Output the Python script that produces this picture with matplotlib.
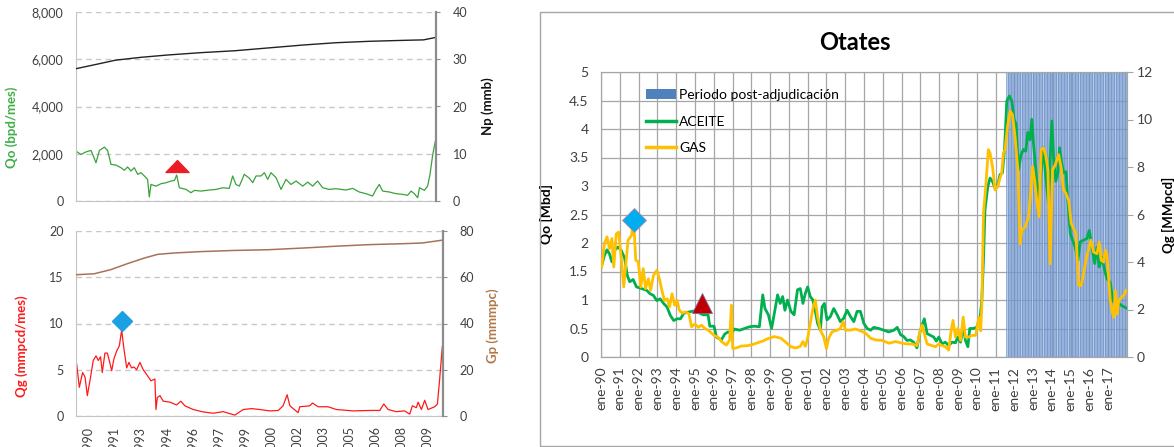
import numpy as np
import matplotlib.pyplot as plt
from matplotlib.patches import Rectangle, Patch
from matplotlib.lines import Line2D
from matplotlib.path import Path
from matplotlib.ticker import FuncFormatter

plt.rcParams['font.family'] = ['Lato', 'DejaVu Sans']

# ---------------- left panels (1990-2010) ----------------
qo_dates = [1989.30, 1989.59, 1989.89, 1990.18, 1990.47, 1990.67, 1990.96, 1991.15, 1991.35, 1991.64,
            1991.93, 1992.13, 1992.32, 1992.52, 1992.71, 1992.91, 1993.10, 1993.30, 1993.49, 1993.59,
            1993.69, 1993.98, 1994.27, 1994.57, 1994.86, 1995.06, 1995.19, 1995.35, 1995.74, 1996.03,
            1996.23, 1996.62, 1997.10, 1997.49, 1997.88, 1998.27, 1998.47, 1998.66, 1998.86, 1999.15,
            1999.45, 1999.64, 1999.84, 2000.13, 2000.32, 2000.52, 2000.71, 2001.01, 2001.30, 2001.59,
            2001.88, 2002.18, 2002.57, 2002.86, 2003.15, 2003.44, 2003.74, 2004.13, 2004.52, 2005.10,
            2005.49, 2005.88, 2006.27, 2006.66, 2006.86, 2007.05, 2007.25, 2007.64, 2008.03, 2008.42,
            2008.71, 2008.91, 2009.10, 2009.30, 2009.40, 2009.69, 2009.88, 2010.02, 2010.18, 2010.37]
qo_vals = [2110, 1970, 2080, 2140, 1620, 2140, 2280, 2140, 1550, 1520,
           1410, 1300, 1440, 1270, 1410, 1130, 1200, 1060, 915, 170,
           700, 630, 730, 775, 845, 870, 1100, 560, 490, 350,
           450, 420, 465, 490, 560, 535, 1060, 700, 630, 1130,
           960, 775, 1060, 1060, 1200, 915, 1200, 985, 490, 915,
           700, 845, 630, 800, 630, 845, 560, 490, 520, 465,
           535, 380, 310, 210, 490, 700, 420, 380, 310, 280,
           240, 420, 310, 140, 560, 450, 630, 1130, 1970, 2675]

np_dates = [1989.30, 1990.72, 1991.61, 1993.08, 1994.66, 1996.63, 1998.60, 2000.57, 2002.55, 2004.52,
            2006.49, 2008.46, 2009.64, 2010.33]
np_vals = [28.0, 29.1, 29.8, 30.4, 30.9, 31.4, 31.8, 32.4, 33.0, 33.5, 33.8, 34.0, 34.1, 34.6]

qg_dates = [1989.34, 1989.49, 1989.68, 1989.82, 1989.95, 1990.10, 1990.29, 1990.45, 1990.58, 1990.71,
            1990.81, 1990.96, 1991.10, 1991.21, 1991.35, 1991.48, 1991.63, 1991.79, 1991.92, 1992.05,
            1992.21, 1992.34, 1992.49, 1992.63, 1992.78, 1992.97, 1993.16, 1993.39, 1993.60, 1993.83,
            1993.89, 1993.97, 1994.12, 1994.31, 1994.69, 1995.07, 1995.32, 1995.55, 1996.03, 1996.60,
            1997.18, 1997.75, 1998.13, 1998.42, 1998.90, 1999.38, 1999.85, 2000.43, 2000.91, 2001.19,
            2001.42, 2001.58, 2002.05, 2002.15, 2002.72, 2002.88, 2003.20, 2003.77, 2004.25, 2005.21,
            2006.16, 2006.74, 2006.97, 2007.22, 2007.69, 2008.17, 2008.46, 2008.61, 2008.84, 2008.94,
            2009.13, 2009.32, 2009.51, 2009.89, 2010.05, 2010.17, 2010.33]
qg_vals = [5.6, 3.1, 4.7, 4.2, 2.2, 3.8, 6.0, 6.5, 6.0, 6.4,
           4.7, 6.8, 6.8, 6.0, 4.9, 6.2, 7.0, 7.6, 9.3, 7.3,
           5.2, 5.8, 5.2, 5.3, 5.0, 5.8, 5.0, 4.4, 3.8, 4.0,
           0.7, 2.0, 2.2, 1.6, 1.5, 1.2, 1.6, 1.1, 0.7, 0.44,
           0.3, 0.47, 0.25, 0.1, 0.7, 0.8, 0.7, 0.55, 0.6, 1.1,
           2.3, 1.1, 0.36, 1.0, 1.1, 1.4, 1.0, 1.0, 0.7, 0.55,
           0.6, 0.6, 1.3, 0.7, 0.47, 0.55, 0.2, 1.1, 0.9, 1.5,
           0.7, 1.7, 0.7, 1.0, 1.3, 3.8, 7.5]

gp_dates = [1989.34, 1990.34, 1991.30, 1992.26, 1993.22, 1993.99, 1994.95, 1996.49, 1998.41, 2000.33,
            2002.25, 2004.18, 2006.10, 2008.02, 2009.17, 2010.29]
gp_vals = [61.1, 61.5, 63.3, 65.9, 68.3, 69.9, 70.5, 71.1, 71.6, 71.9, 72.6, 73.4, 74.1, 74.5, 74.8, 76.0]

left_year_ticks = [1990, 1991.5, 1993, 1994.5, 1996, 1997.5, 1999, 2000.5, 2002, 2003.5,
                   2005, 2006.5, 2008, 2009.5]
left_triangle = (1995.19, 1480)
left_diamond = (1991.96, 10.3)

# ---------------- right panel: Otates ----------------
ac_dates = [1990.04, 1990.18, 1990.32, 1990.45, 1990.58, 1990.72, 1990.90, 1991.08, 1991.26, 1991.40,
            1991.53, 1991.71, 1991.89, 1992.16, 1992.43, 1992.61, 1992.79, 1992.97, 1993.15, 1993.33,
            1993.51, 1993.69, 1993.87, 1994.05, 1994.23, 1994.41, 1994.68, 1995.00, 1995.44, 1995.70,
            1995.79, 1996.02, 1996.14, 1996.41, 1996.58, 1996.76, 1996.94, 1997.11, 1997.38, 1997.64,
            1997.90, 1998.17, 1998.43, 1998.61, 1998.73, 1998.91, 1999.08, 1999.23, 1999.40, 1999.54,
            1999.67, 1999.79, 1999.93, 2000.11, 2000.28, 2000.46, 2000.61, 2000.75, 2000.88, 2001.00,
            2001.14, 2001.28, 2001.41, 2001.53, 2001.68, 2001.77, 2001.89, 2002.03, 2002.21, 2002.39,
            2002.57, 2002.74, 2002.92, 2003.10, 2003.28, 2003.46, 2003.63, 2003.81, 2003.99, 2004.17,
            2004.35, 2004.52, 2004.79, 2005.06, 2005.32, 2005.59, 2005.77, 2005.95, 2006.11, 2006.29,
            2006.47, 2006.64, 2006.82, 2006.96, 2007.09, 2007.21, 2007.36, 2007.53, 2007.71, 2007.85,
            2007.98, 2008.16, 2008.33, 2008.51, 2008.69, 2008.87, 2008.99, 2009.14, 2009.28, 2009.40,
            2009.53, 2009.63, 2009.81, 2010.00, 2010.18, 2010.27, 2010.36, 2010.44, 2010.59, 2010.71,
            2010.84, 2010.98, 2011.10, 2011.24, 2011.37, 2011.48, 2011.60, 2011.74, 2011.87, 2011.99,
            2012.10, 2012.22, 2012.36, 2012.49, 2012.61, 2012.72, 2012.84, 2012.93, 2013.02, 2013.15,
            2013.29, 2013.43, 2013.56, 2013.68, 2013.82, 2013.91, 2014.00, 2014.09, 2014.21, 2014.32,
            2014.41, 2014.50, 2014.62, 2014.75, 2014.85, 2014.98, 2015.10, 2015.24, 2015.39, 2015.51,
            2015.69, 2015.87, 2015.99, 2016.13, 2016.28, 2016.40, 2016.52, 2016.67, 2016.81, 2016.93,
            2017.11, 2017.24, 2017.38, 2017.56, 2017.73, 2017.95]
ac_vals = [1.61, 1.78, 1.88, 1.81, 1.67, 1.87, 1.93, 1.87, 1.73, 1.43,
           1.32, 1.36, 1.23, 1.20, 1.17, 1.11, 1.08, 0.99, 1.02, 0.94,
           0.88, 0.73, 0.64, 0.67, 0.67, 0.77, 0.79, 0.81, 0.74, 0.74,
           0.54, 0.54, 0.35, 0.30, 0.40, 0.44, 0.42, 0.49, 0.47, 0.50,
           0.53, 0.54, 0.53, 1.09, 0.85, 0.74, 0.50, 0.77, 1.09, 0.94,
           1.06, 0.82, 1.00, 0.80, 0.74, 1.18, 1.20, 0.94, 1.12, 1.23,
           1.06, 1.00, 0.80, 0.59, 0.47, 0.88, 0.94, 0.65, 0.71, 0.85,
           0.74, 0.62, 0.68, 0.82, 0.71, 0.62, 0.80, 0.80, 0.59, 0.50,
           0.47, 0.52, 0.50, 0.47, 0.44, 0.47, 0.52, 0.39, 0.36, 0.29,
           0.30, 0.26, 0.16, 0.41, 0.56, 0.67, 0.41, 0.38, 0.35, 0.28,
           0.35, 0.23, 0.26, 0.20, 0.26, 0.25, 0.35, 0.26, 0.53, 0.29,
           0.18, 0.50, 0.50, 0.52, 0.69, 0.99, 1.70, 2.58, 2.99, 3.14,
           3.08, 2.96, 2.99, 3.20, 3.23, 3.64, 4.49, 4.58, 4.49, 4.17,
           4.08, 3.28, 3.55, 3.64, 3.61, 3.94, 3.81, 4.17, 3.75, 3.28,
           2.64, 3.28, 3.67, 3.14, 2.70, 3.46, 4.14, 3.52, 3.08, 3.23,
           3.67, 3.46, 3.23, 3.25, 2.75, 2.17, 2.05, 1.93, 1.70, 2.02,
           2.05, 2.08, 2.22, 1.93, 1.64, 1.93, 1.58, 1.75, 1.52, 1.37,
           1.31, 0.99, 0.93, 0.94, 0.90, 0.86]

gas_dates = [1990.04, 1990.18, 1990.32, 1990.45, 1990.58, 1990.68, 1990.81, 1990.94, 1991.08, 1991.21,
             1991.29, 1991.44, 1991.62, 1991.74, 1991.85, 1991.98, 1992.12, 1992.25, 1992.37, 1992.52,
             1992.64, 1992.79, 1992.97, 1993.11, 1993.24, 1993.38, 1993.53, 1993.65, 1993.78, 1993.92,
             1994.05, 1994.17, 1994.32, 1994.50, 1994.68, 1994.82, 1995.00, 1995.18, 1995.35, 1995.53,
             1995.70, 1995.88, 1996.06, 1996.23, 1996.41, 1996.67, 1996.85, 1996.94, 1997.01, 1997.20,
             1997.46, 1997.82, 1998.08, 1998.35, 1998.61, 1998.87, 1999.23, 1999.58, 1999.84, 2000.11,
             2000.37, 2000.61, 2000.75, 2000.88, 2001.00, 2001.14, 2001.28, 2001.41, 2001.53, 2001.68,
             2001.85, 2002.00, 2002.12, 2002.30, 2002.57, 2002.74, 2002.89, 2003.01, 2003.28, 2003.54,
             2003.81, 2004.08, 2004.35, 2004.61, 2004.97, 2005.32, 2005.68, 2006.04, 2006.29, 2006.56,
             2006.82, 2007.00, 2007.09, 2007.21, 2007.36, 2007.62, 2007.80, 2007.98, 2008.16, 2008.33,
             2008.51, 2008.64, 2008.74, 2008.87, 2008.99, 2009.14, 2009.28, 2009.40, 2009.58, 2009.76,
             2009.94, 2010.12, 2010.21, 2010.27, 2010.36, 2010.48, 2010.62, 2010.71, 2010.84, 2010.98,
             2011.12, 2011.24, 2011.33, 2011.42, 2011.51, 2011.64, 2011.78, 2011.90, 2012.04, 2012.19,
             2012.31, 2012.40, 2012.58, 2012.76, 2012.84, 2012.97, 2013.08, 2013.20, 2013.32, 2013.43,
             2013.56, 2013.68, 2013.79, 2013.91, 2014.04, 2014.18, 2014.36, 2014.50, 2014.62, 2014.75,
             2014.89, 2015.03, 2015.16, 2015.28, 2015.42, 2015.56, 2015.69, 2015.81, 2015.96, 2016.08,
             2016.22, 2016.40, 2016.52, 2016.63, 2016.76, 2016.84, 2016.93, 2017.02, 2017.11, 2017.20,
             2017.29, 2017.38, 2017.47, 2017.56, 2017.70, 2017.82, 2017.95]
gas_vals = [3.79, 4.78, 5.06, 4.56, 4.99, 3.79, 5.18, 5.26, 4.15, 2.95,
            3.65, 4.92, 5.11, 5.76, 4.08, 4.01, 2.95, 3.72, 2.88, 3.29,
            2.81, 3.43, 3.65, 3.29, 2.81, 2.38, 2.45, 2.11, 2.66, 2.18,
            2.38, 1.97, 1.85, 1.90, 1.82, 1.27, 1.39, 1.25, 1.34, 1.20,
            1.13, 1.01, 0.89, 0.84, 0.65, 0.50, 0.72, 2.18, 0.36, 0.38,
            0.46, 0.48, 0.53, 0.60, 0.67, 0.77, 0.86, 0.79, 0.62, 0.43,
            0.38, 0.45, 0.65, 0.45, 0.79, 1.42, 2.04, 2.40, 1.70, 1.13,
            0.86, 0.36, 0.79, 1.06, 1.13, 1.20, 1.49, 1.13, 1.13, 1.18,
            1.10, 1.01, 0.79, 0.72, 0.70, 0.58, 0.65, 0.58, 0.55, 0.55,
            0.48, 1.13, 1.34, 0.98, 0.55, 0.48, 0.43, 0.55, 0.48, 0.43,
            0.29, 1.13, 1.54, 0.84, 1.20, 0.70, 1.68, 0.84, 0.84, 0.91,
            0.91, 1.67, 1.10, 2.09, 6.05, 7.18, 8.73, 8.59, 8.02, 7.03,
            7.18, 7.53, 7.74, 8.59, 8.73, 9.72, 10.35, 10.21, 9.29, 7.88,
            4.77, 5.34, 5.48, 5.90, 6.61, 8.02, 7.46, 6.61, 5.90, 8.73,
            8.80, 8.45, 7.88, 3.93, 7.88, 8.09, 8.52, 7.95, 7.03, 6.89,
            6.61, 5.62, 5.41, 5.20, 3.01, 3.01, 3.50, 4.07, 4.56, 4.92,
            4.42, 4.35, 4.84, 4.07, 4.00, 4.49, 4.35, 3.36, 2.37, 1.95,
            1.67, 2.80, 1.81, 2.37, 2.51, 2.58, 2.80]

post_start, post_end = 2011.58, 2018.0
right_diamond = (1991.76, 2.40)
right_triangle = (1995.39, 0.94)
years = list(range(1990, 2018))

W, H = 1174, 447
fig = plt.figure(figsize=(W / 100, H / 100), dpi=100)


def px_axes(l, t, r, b):
    return fig.add_axes([l / W, 1 - b / H, (r - l) / W, (b - t) / H])


def style_left(ax, axb):
    for s in ['top', 'right']:
        ax.spines[s].set_visible(False)
    ax.spines['left'].set_color('#c4c4c4')
    ax.spines['bottom'].set_color('#c4c4c4')
    for s in ['top', 'left', 'bottom']:
        axb.spines[s].set_visible(False)
    axb.spines['right'].set_color('#8c8c8c')
    axb.spines['right'].set_linewidth(1.6)
    ax.grid(axis='y', color='#c8c8c8', ls=(0, (4, 3)), lw=1)
    ax.tick_params(axis='y', length=0, labelsize=9, colors='#404040', pad=9)
    axb.tick_params(axis='y', length=3, color='#8c8c8c', labelsize=9, labelcolor='#404040', pad=9)


flat_tri = Path([(-1, -0.52), (1, -0.52), (0, 0.52), (-1, -0.52)],
                [Path.MOVETO, Path.LINETO, Path.LINETO, Path.CLOSEPOLY])

# top left: oil
ax1 = px_axes(76, 12, 436, 201)
ax1b = ax1.twinx()
ax1.plot(qo_dates, qo_vals, color='#3aa23a', lw=0.9)
ax1b.plot(np_dates, np_vals, color='#222222', lw=1.0)
ax1.plot(*left_triangle, marker=flat_tri, ms=16.5, color='#ec1c24', ls='none', zorder=5)
ax1.set_xlim(1989.3, 2010.37)
ax1.set_ylim(0, 8000)
ax1.set_yticks(range(0, 8001, 2000))
ax1.yaxis.set_major_formatter(FuncFormatter(lambda v, p: f'{v:,.0f}'))
ax1.set_xticks([])
ax1b.set_ylim(0, 40)
ax1b.set_yticks(range(0, 41, 10))
style_left(ax1, ax1b)
ax1.set_ylabel('Qo (bpd/mes)', color='#3cb043', fontweight='bold', fontsize=9.5)
ax1.yaxis.set_label_coords(-0.161, 0.39)
ax1b.set_ylabel('Np (mmb)', color='#111111', fontweight='bold', fontsize=9.5)
ax1b.yaxis.set_label_coords(1.125, 0.5)

# bottom left: gas (year labels run off the bottom edge, as in the source image)
ax2 = px_axes(76, 231, 443, 416)
ax2b = ax2.twinx()
ax2.plot(qg_dates, qg_vals, color='#ff1a1a', lw=0.9)
ax2b.plot(gp_dates, gp_vals, color='#a8725a', lw=1.1)
ax2.plot(*left_diamond, marker='D', ms=10, color='#1ba1e2', ls='none', zorder=5)
ax2.set_xlim(1989.3, 2010.37)
ax2.set_ylim(0, 20)
ax2.set_yticks(range(0, 21, 5))
ax2b.set_ylim(0, 80)
ax2b.set_yticks(range(0, 81, 20))
ax2.set_xticks(left_year_ticks)
ax2.set_xticklabels([str(int(t)) for t in left_year_ticks], rotation=90)
ax2.tick_params(axis='x', length=0, labelsize=9, colors='#404040', pad=7)
style_left(ax2, ax2b)
ax2.set_ylabel('Qg (mmpcd/mes)', color='#ff1a1a', fontweight='bold', fontsize=9.5)
ax2.yaxis.set_label_coords(-0.131, 0.38)
ax2b.set_ylabel('Gp (mmmpc)', color='#b07848', fontweight='bold', fontsize=9.5)
ax2b.yaxis.set_label_coords(1.117, 0.49)

# right: Otates
fig.add_artist(Rectangle((540 / W, 1 / H), 0.6, 434 / H, transform=fig.transFigure,
                         fill=False, edgecolor='#a6a6a6', lw=1))
ax3 = px_axes(601, 72, 1127, 357)
ax3b = ax3.twinx()
months = np.arange(post_start, post_end, 1 / 12)
ax3.bar(months, 5, width=0.06, align='edge', color='#a6c0e4', edgecolor='#6189c4',
        lw=0.5, alpha=0.8, zorder=1)
ax3.plot(ac_dates, ac_vals, color='#00b050', lw=2.0, zorder=3)
ax3b.plot(gas_dates, gas_vals, color='#ffc000', lw=2.0, zorder=3)
ax3b.plot(*right_diamond, marker='D', ms=12.5, color='#00aeef', mec='#b08aa8', mew=0.6,
          ls='none', transform=ax3.transData, zorder=6)
ax3b.plot(*right_triangle, marker='^', ms=15, color='#c00000', mec='#7f6a9a', mew=0.6,
          ls='none', transform=ax3.transData, zorder=6)

ax3.set_xlim(1990, 2018)
ax3.set_ylim(0, 5)
ax3.set_yticks(np.arange(0, 5.01, 0.5))
ax3.yaxis.set_major_formatter(FuncFormatter(lambda v, p: f'{v:g}'))
ax3.set_xticks(years)
ax3.set_xticklabels([f'ene-{y % 100:02d}' for y in years], rotation=90)
ax3.grid(True, color='#a6a6a6', lw=0.9)
ax3.set_axisbelow(True)
ax3b.set_ylim(0, 12)
ax3b.set_yticks(range(0, 13, 2))
for a in (ax3, ax3b):
    for s in a.spines.values():
        s.set_color('#a6a6a6')
ax3.tick_params(axis='both', length=0, labelsize=10, colors='#404040')
ax3.tick_params(axis='y', pad=9)
ax3.tick_params(axis='x', pad=7)
ax3b.tick_params(axis='y', length=4, color='#a6a6a6', labelsize=10, labelcolor='#404040', pad=3)
ax3.set_ylabel('Qo [Mbd]', fontweight='bold', fontsize=10)
ax3.yaxis.set_label_coords(-0.091, 0.5)
ax3b.set_ylabel('Qg [MMpcd]', fontweight='bold', fontsize=9.5)
ax3b.yaxis.set_label_coords(1.066, 0.5)

handles = [Patch(facecolor='#4f81bd'),
           Line2D([], [], color='#00b050', lw=2.5),
           Line2D([], [], color='#ffc000', lw=2.5)]
ax3b.legend(handles, ['Periodo post-adjudicación', 'ACEITE', 'GAS'], loc='upper left',
            bbox_to_anchor=(0.085, 0.94), frameon=False, fontsize=10, handlelength=2.2,
            handletextpad=0.2, labelspacing=1.05, borderpad=0, borderaxespad=0)

fig.text(855 / W, 1 - 42 / H, 'Otates', ha='center', va='center', fontsize=17, fontweight='bold')

fig.savefig('out.png', dpi=100)
